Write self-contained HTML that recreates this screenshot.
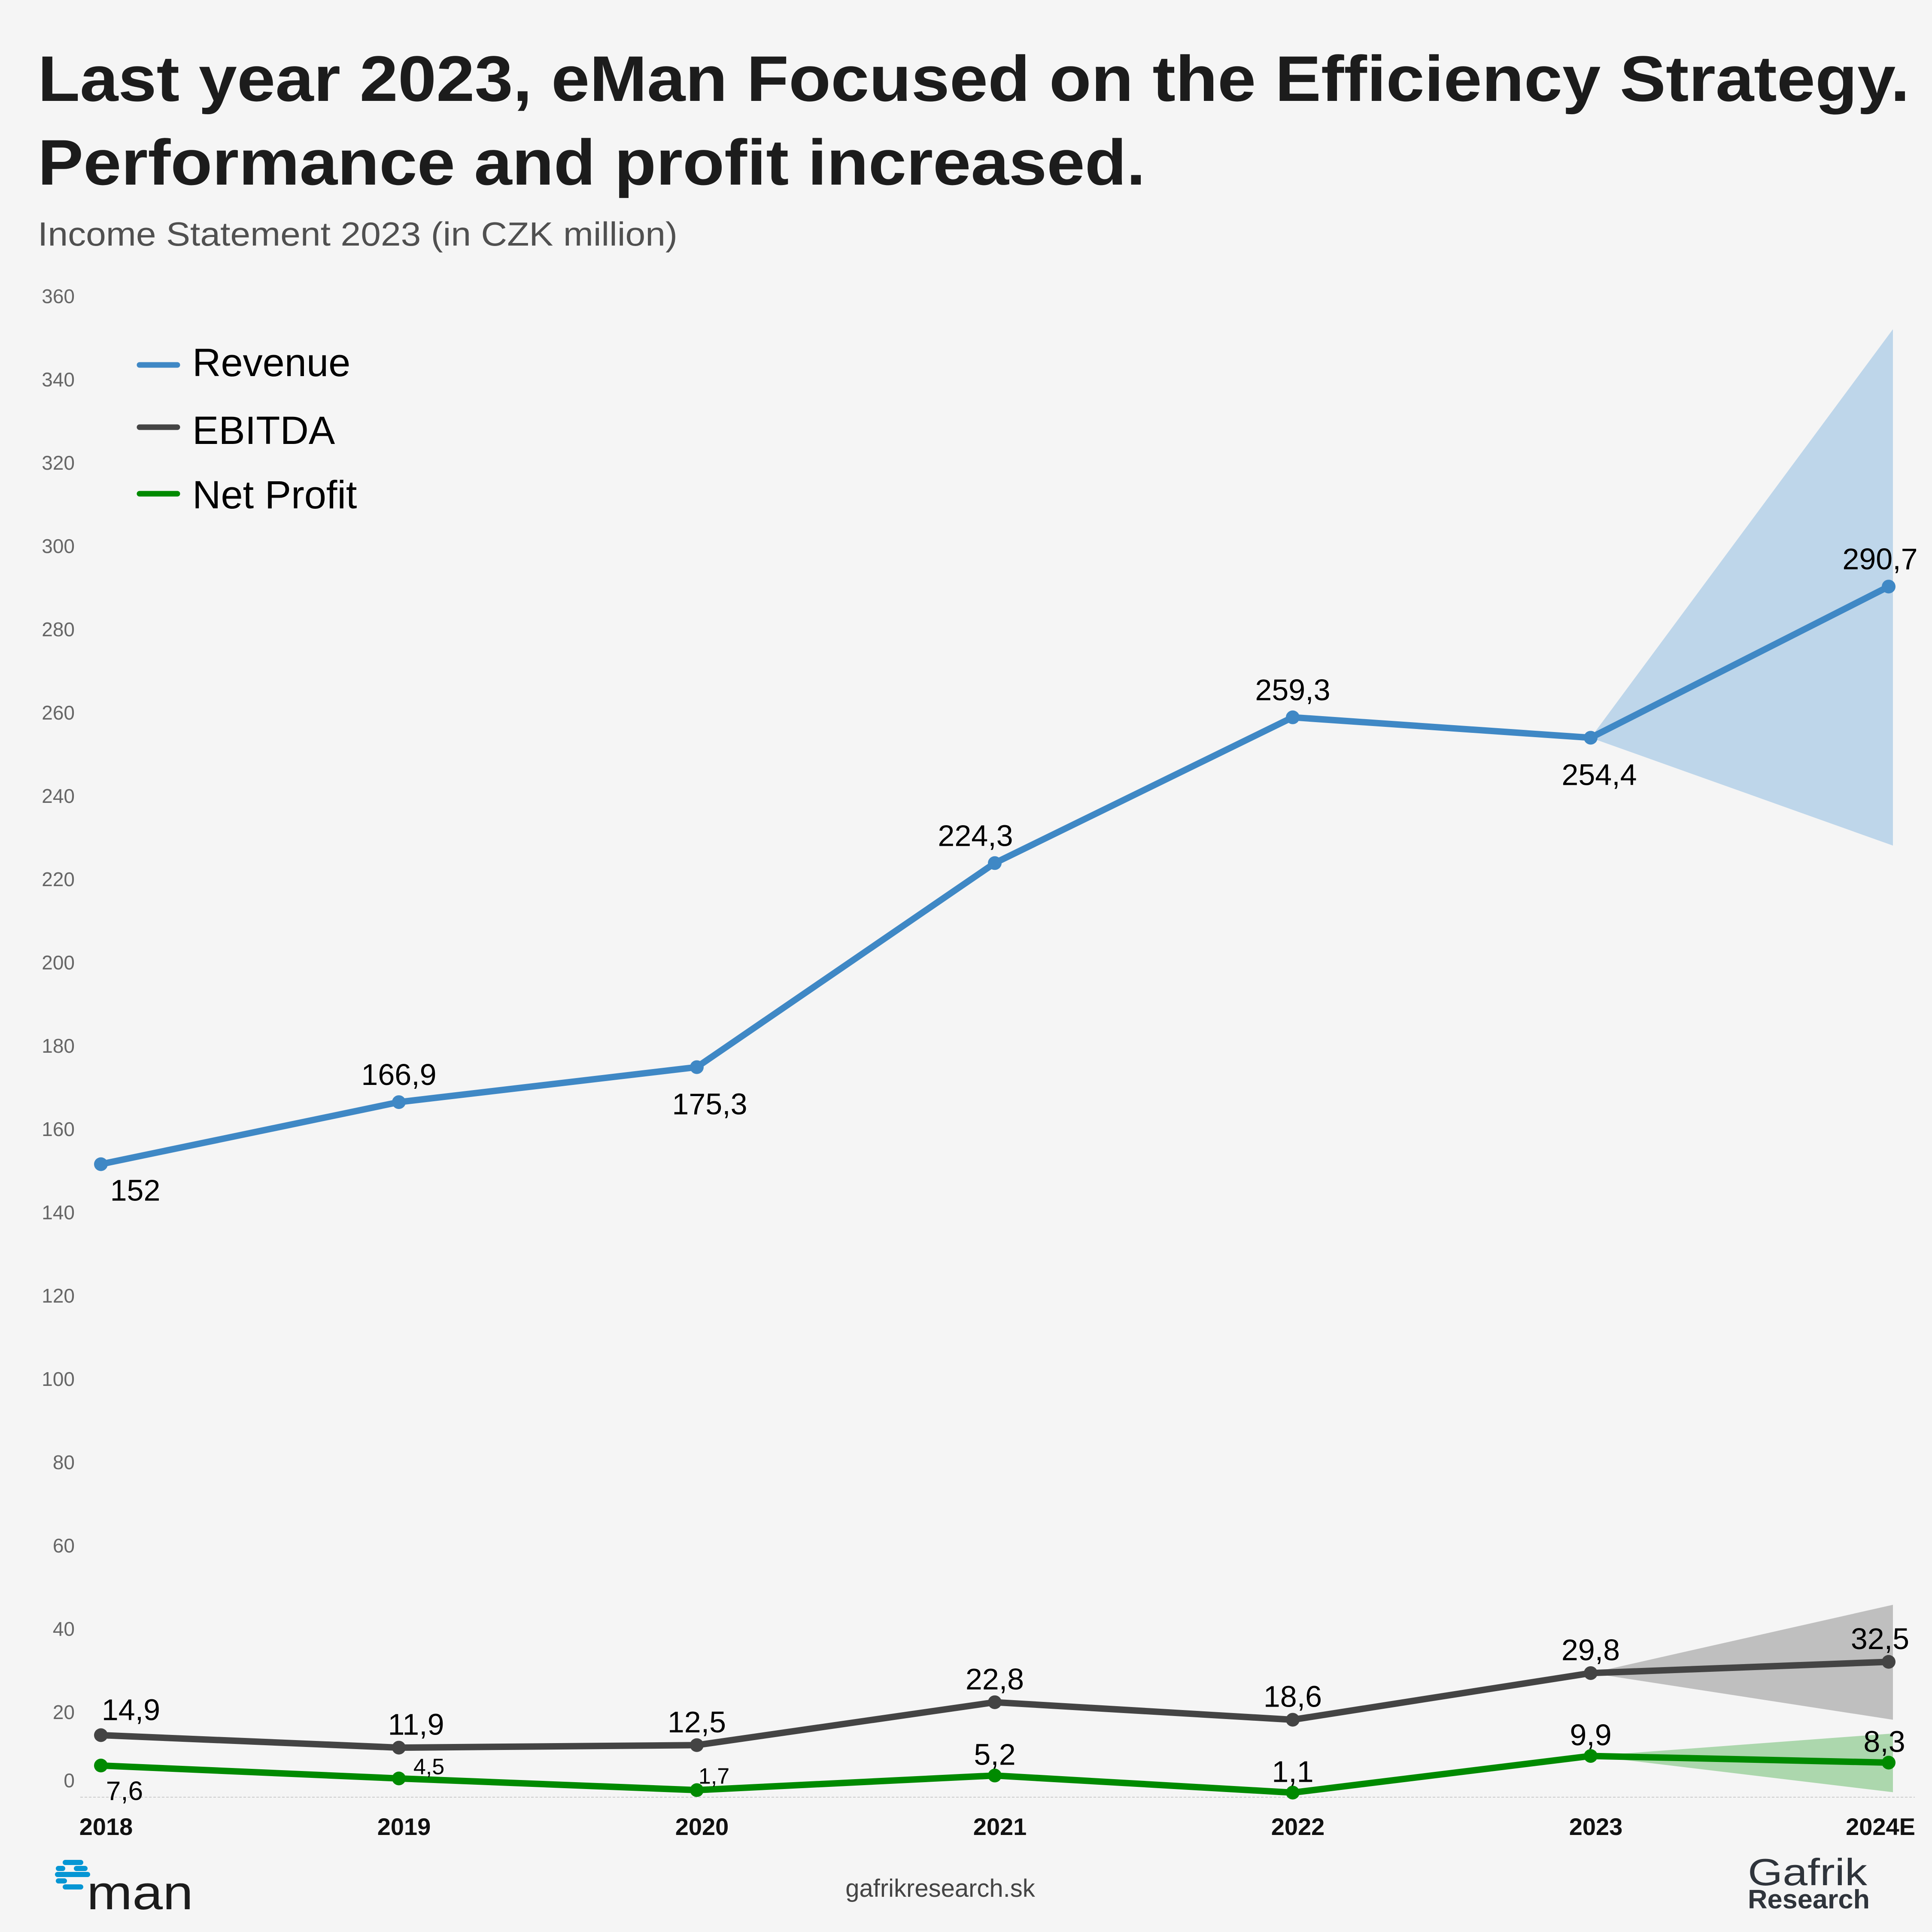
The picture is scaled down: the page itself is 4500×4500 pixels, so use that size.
<!DOCTYPE html>
<html><head><meta charset="utf-8"><style>
html,body{margin:0;padding:0;background:#f5f5f5;}
svg{display:block;}
text{font-family:"Liberation Sans",sans-serif;}
</style></head><body>
<svg id="chart" width="4500" height="4500" viewBox="0 0 4500 4500" xmlns="http://www.w3.org/2000/svg">
<rect width="4500" height="4500" fill="#f5f5f5"/>
<text x="88" y="235" font-size="150" font-weight="bold" fill="#1c1c1c" textLength="4360" lengthAdjust="spacingAndGlyphs">Last year 2023, eMan Focused on the Efficiency Strategy.</text>
<text x="88" y="430" font-size="150" font-weight="bold" fill="#1c1c1c" textLength="2580" lengthAdjust="spacingAndGlyphs">Performance and profit increased.</text>
<text x="88" y="572" font-size="78" fill="#505050" textLength="1490" lengthAdjust="spacingAndGlyphs">Income Statement 2023 (in CZK million)</text>
<g id="yaxis"></g>
<line x1="187" y1="4186" x2="4460" y2="4186" stroke="#cccccc" stroke-width="2" stroke-dasharray="6,4"/>
<g id="bands"></g>
<g id="series"></g>
<g id="xaxis"></g>
<g>
 <g><line x1="325" y1="850" x2="413" y2="850" stroke="#3f88c5" stroke-width="13" stroke-linecap="round"/><text x="448" y="876" font-size="92" fill="#000">Revenue</text></g>
 <g><line x1="325" y1="995" x2="413" y2="995" stroke="#444444" stroke-width="13" stroke-linecap="round"/><text x="448" y="1034" font-size="92" fill="#000">EBITDA</text></g>
 <g><line x1="325" y1="1150" x2="413" y2="1150" stroke="#008a00" stroke-width="13" stroke-linecap="round"/><text x="448" y="1184" font-size="92" fill="#000">Net Profit</text></g>
</g>
<g>
 <g stroke="#0596d4" stroke-width="12" stroke-linecap="round">
  <line x1="152" y1="4338" x2="188" y2="4338"/><line x1="136" y1="4352" x2="146" y2="4352"/><line x1="178" y1="4352" x2="198" y2="4352"/>
  <line x1="134" y1="4366" x2="204" y2="4366"/><line x1="136" y1="4381" x2="150" y2="4381"/><line x1="152" y1="4395" x2="188" y2="4395"/>
 </g>
 <text x="202" y="4447" font-size="112" fill="#1c1c1c" textLength="248" lengthAdjust="spacingAndGlyphs">man</text>
</g>
<text x="2190" y="4418" font-size="58" fill="#444" text-anchor="middle">gafrikresearch.sk</text>
<g fill="#2f343b">
 <text x="4071" y="4391" font-size="88" textLength="278" lengthAdjust="spacingAndGlyphs">Gafrik</text>
 <text x="4071" y="4445" font-size="62" font-weight="bold" textLength="284" lengthAdjust="spacingAndGlyphs">Research</text>
</g>
</svg>
<script>
const categories = ["2018","2019","2020","2021","2022","2023","2024E"];
const revenue = [152, 166.9, 175.3, 224.3, 259.3, 254.4, 290.7];
const ebitda = [14.9, 11.9, 12.5, 22.8, 18.6, 29.8, 32.5];
const netProfit = [7.6, 4.5, 1.7, 5.2, 1.1, 9.9, 8.3];
const revenueBand = [352.5, 228.5];
const ebitdaBand = [46.2, 18.6];
const netProfitBand = [15.3, 1.2];
const yTicks = [0,20,40,60,80,100,120,140,160,180,200,220,240,260,280,300,320,340,360];

const NS = "http://www.w3.org/2000/svg";
function x(i){ return 235 + i * 694; }
function y(v){ return 4186 - v * 9.70; }
function mk(tag, attrs, parent){ const e = document.createElementNS(NS, tag); for (const k in attrs) e.setAttribute(k, attrs[k]); parent.appendChild(e); return e; }
function fmt(v){ return String(v).replace('.', ','); }

const yg = document.getElementById('yaxis');
yTicks.forEach(t => {
  const ty = t === 0 ? 4151 : y(t);
  const el = mk('text', {x: 174, y: ty + 12, 'font-size': 46, fill: '#666', 'text-anchor': 'end'}, yg);
  
  
  el.textContent = t;
});

const xg = document.getElementById('xaxis');
categories.forEach((c, i) => {
  const last = i === categories.length - 1;
  const el = mk('text', {x: last ? 4461 : x(i) + 12, y: 4274, 'font-size': 56, 'font-weight': 'bold', fill: '#111', 'text-anchor': last ? 'end' : 'middle'}, xg);
  
  
  el.textContent = c;
});

const bg = document.getElementById('bands');
function band(vals, bandVals, color, name){
  const n = vals.length;
  const x0 = x(n - 2), y0 = y(vals[n - 2]), x1 = x(n - 1) + 10;
  const p = mk('path', {d: `M${x0},${y0} L${x1},${y(bandVals[0])} L${x1},${y(bandVals[1])} Z`, fill: color}, bg);
  
  
}
band(revenue, revenueBand, '#bed6ea', 'revenue-forecast-band');
band(ebitda, ebitdaBand, '#bfbfbf', 'ebitda-forecast-band');
band(netProfit, netProfitBand, '#acd7ad', 'net-profit-forecast-band');

const sg = document.getElementById('series');
// label layout offsets (px) relative to each point, not data
const revLabelOff = [[80,60],[0,-65],[30,85],[-45,-65],[0,-65],[20,85],[-20,-65]];
const ebLabelOff = [[70,-60],[40,-55],[0,-55],[0,-55],[0,-55],[0,-55],[-20,-55]];
const npLabelOff = [[55,55],[70,-35],[40,-40],[0,-50],[0,-50],[0,-50],[-10,-50]];
const npLabelSize = [62,52,52,70,70,70,70];
function series(vals, color, name, offs, sizes){
  const pts = vals.map((v, i) => `${x(i)},${y(v)}`).join(' ');
  const pl = mk('polyline', {points: pts, fill: 'none', stroke: color, 'stroke-width': 15, 'stroke-linejoin': 'round'}, sg);
  
  
  vals.forEach((v, i) => {
    const c = mk('circle', {cx: x(i), cy: y(v), r: 16, fill: color}, sg);
    
    
    const t = mk('text', {x: x(i) + offs[i][0], y: y(v) + offs[i][1] + 25, 'font-size': sizes ? sizes[i] : 70, fill: '#000', 'text-anchor': 'middle'}, sg);
    
    
    t.textContent = fmt(v);
  });
}
series(revenue, '#3f88c5', 'revenue', revLabelOff);
series(ebitda, '#444444', 'ebitda', ebLabelOff);
series(netProfit, '#008a00', 'net-profit', npLabelOff, npLabelSize);
</script>
</body></html>
